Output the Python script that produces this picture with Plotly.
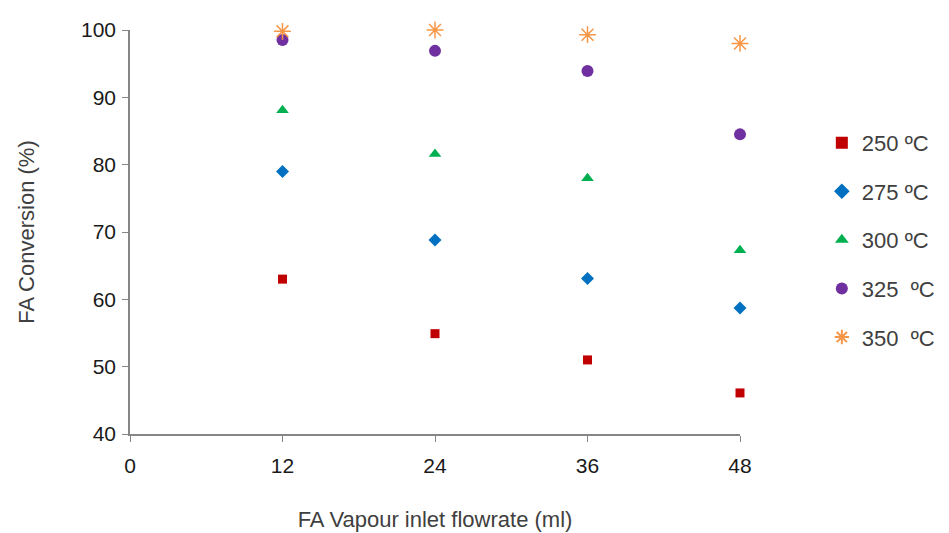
import plotly.graph_objects as go

flowrate = [12, 24, 36, 48]
conv_250 = [63.0, 54.9, 51.0, 46.1]
conv_275 = [79.0, 68.8, 63.1, 58.7]
conv_300 = [88.1, 81.6, 78.0, 67.3]
conv_325 = [98.5, 96.9, 93.9, 84.5]
conv_350 = [99.8, 100.0, 99.3, 98.0]
series_names = ["250 ºC", "275 ºC", "300 ºC", "325\u00a0 ºC", "350\u00a0 ºC"]
x_ticks = [0, 12, 24, 36, 48]
y_ticks = [40, 50, 60, 70, 80, 90, 100]

series = [conv_250, conv_275, conv_300, conv_325, conv_350]
colors = ["#C00000", "#0070C0", "#00B050", "#7030A0", "#F79646"]
symbols = ["square", "diamond", "triangle-up", "circle", "asterisk-open"]
sizes = [9, 10, 11, 12, 14]

fig = go.Figure()
for name, ys, c, s, sz in zip(series_names, series, colors, symbols, sizes):
    marker = dict(color=c, symbol=s, size=sz)
    if s == "asterisk-open":
        marker["line"] = dict(color=c, width=1.5)
    else:
        marker["line"] = dict(width=0)
    fig.add_trace(go.Scatter(x=flowrate, y=ys, mode="markers", name=name,
                             marker=marker, legendgroup=name, cliponaxis=False))

fam = "Liberation Sans, Arial, sans-serif"
fig.update_layout(
    width=949, height=533,
    margin=dict(l=130, r=209, t=30, b=99, autoexpand=False),
    paper_bgcolor="white", plot_bgcolor="white",
    font=dict(family=fam, size=21, color="#404040"),
    showlegend=True,
    legend=dict(xref="container", yref="container", x=0.866, xanchor="left",
                y=0.55, yanchor="middle",
                font=dict(family=fam, size=22, color="#404040"),
                tracegroupgap=17, itemsizing="constant", itemwidth=30),
    xaxis=dict(range=[0, 48], tickvals=x_ticks, ticks="outside", ticklen=6,
               tickcolor="#868686", showline=True, linecolor="#868686", linewidth=1.5,
               showgrid=False, zeroline=False, ticklabelstandoff=6,
               title=dict(text="FA Vapour inlet flowrate (ml)", standoff=36,
                          font=dict(size=22, color="#404040")),
               tickfont=dict(size=21, color="#1a1a1a")),
    yaxis=dict(range=[40, 100], tickvals=y_ticks, ticks="outside", ticklen=6,
               tickcolor="#868686", showline=True, linecolor="#868686", linewidth=1.5,
               showgrid=False, zeroline=False, ticklabelstandoff=2,
               title=dict(text="FA Conversion (%)", standoff=40,
                          font=dict(size=22, color="#404040")),
               tickfont=dict(size=21, color="#1a1a1a")),
)
fig.write_html("out.html")
